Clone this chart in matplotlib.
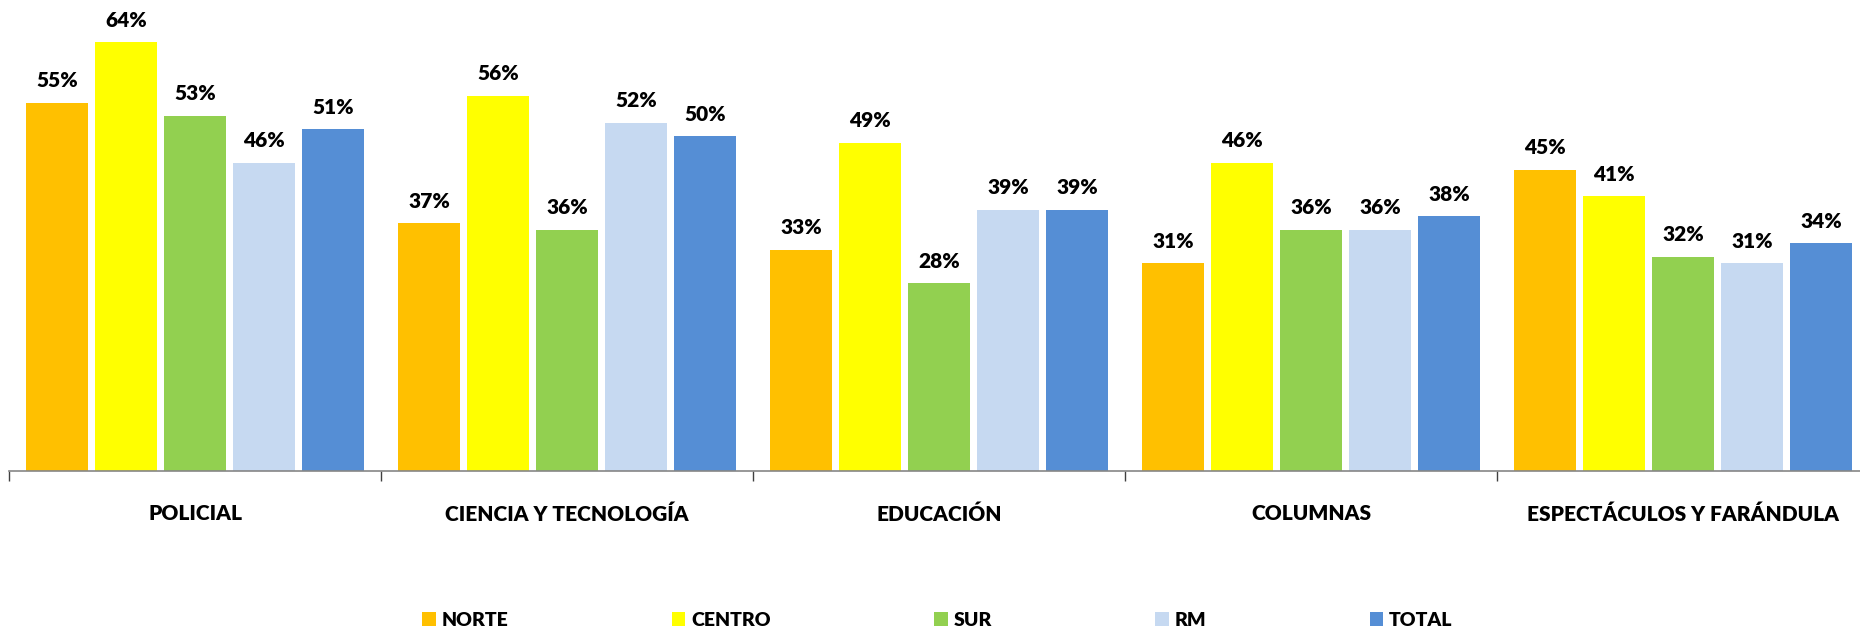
import numpy as np
import matplotlib.pyplot as plt
from matplotlib.ticker import FixedLocator

# categorías y series
categorias = ["POLICIAL", "CIENCIA Y TECNOLOGÍA", "EDUCACIÓN", "COLUMNAS", "ESPECTÁCULOS Y FARÁNDULA"]
series = ["NORTE", "CENTRO", "SUR", "RM", "TOTAL"]
norte = [55, 37, 33, 31, 45]
centro = [64, 56, 49, 46, 41]
sur = [53, 36, 28, 36, 32]
rm = [46, 52, 39, 36, 31]
total = [51, 50, 39, 38, 34]
valores = [norte, centro, sur, rm, total]
colores = ["#FFC000", "#FFFF00", "#92D050", "#C6D9F1", "#558ED5"]

plt.rcParams['font.family'] = ['Lato', 'DejaVu Sans']
peso = "heavy"

fig = plt.figure(figsize=(18.6, 6.28), dpi=100)
ax = fig.add_axes([9 / 1860, 157 / 628, 1.0, 471 / 628])

x = np.arange(len(categorias))
paso = 0.1855
ancho = 0.169
for j, (nombre, vals, col) in enumerate(zip(series, valores, colores)):
    pos = x + (j - 2) * paso
    barras = ax.bar(pos, vals, width=ancho, color=col, label=nombre, zorder=2)
    for b, v in zip(barras, vals):
        ax.annotate(f"{v}%", (b.get_x() + b.get_width() / 2, v),
                    xytext=(0, 9), textcoords="offset points",
                    ha="center", va="bottom", fontsize=15, fontweight=peso)

ax.set_xlim(-0.5, len(categorias) - 0.5)
ax.set_ylim(0, 70.3)
ax.set_yticks([])
for s in ["top", "right", "left"]:
    ax.spines[s].set_visible(False)
ax.spines["bottom"].set_color("#868686")
ax.spines["bottom"].set_linewidth(1.2)

ax.set_xticks(x)
ax.set_xticklabels(categorias, fontsize=15, fontweight=peso)
ax.tick_params(axis="x", which="major", length=0, pad=24)
ax.xaxis.set_minor_locator(FixedLocator(np.arange(-0.5, len(categorias), 1.0)))
ax.tick_params(axis="x", which="minor", length=7, color="#404040", width=1)

fig.legend(loc="center", bbox_to_anchor=(0.504, 1 - 620 / 628), ncol=5,
           frameon=False, handlelength=0.7, handleheight=0.7,
           handletextpad=0.3, columnspacing=8.4, prop={"weight": peso, "size": 14})

fig.savefig("out.png", dpi=100)
